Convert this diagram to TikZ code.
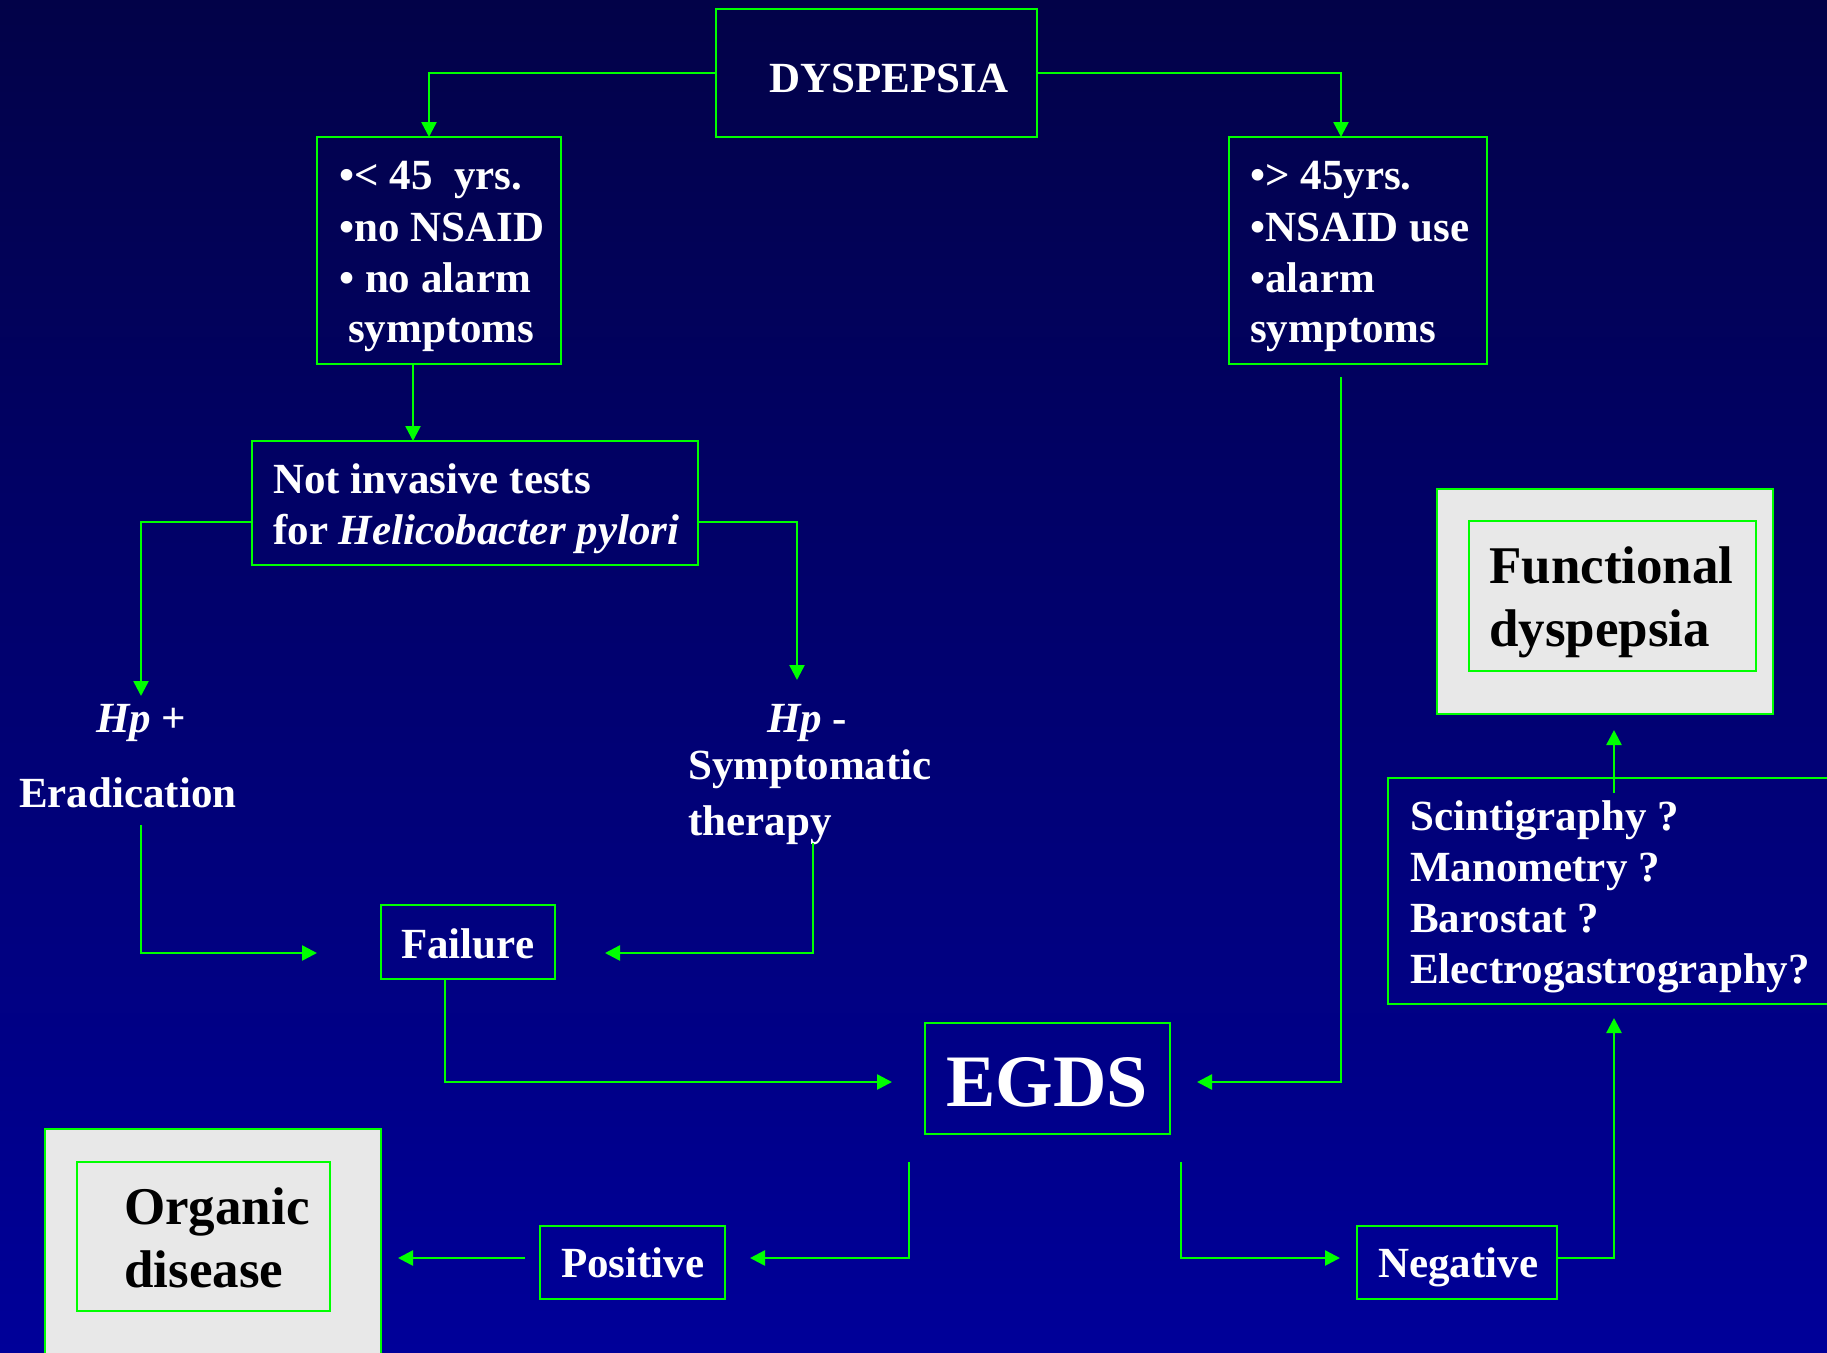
\documentclass[tikz,border=0pt]{standalone}
\usepackage{fontspec}
\setmainfont{Liberation Serif}
\usetikzlibrary{arrows.meta}
\definecolor{bgtop}{RGB}{2,2,72}
\definecolor{bgbot}{RGB}{0,0,153}
\definecolor{lgreen}{RGB}{0,255,0}
\definecolor{pale}{RGB}{232,232,232}
\begin{document}
\begin{tikzpicture}[x=1pt,y=-1pt,
  box/.style={draw=lgreen,line width=2.5pt,rectangle,inner sep=0pt,outer sep=0pt},
  graybox/.style={box,fill=pale},
  conn/.style={draw=lgreen,line width=2.5pt,-{Triangle[width=15pt,length=15pt]}},
  tx/.style={text=white,anchor=base west,inner sep=0pt,font=\fontsize{43}{50}\selectfont\bfseries},
  bigtx/.style={tx,text=black,font=\fontsize{53}{60}\selectfont\bfseries}]
\useasboundingbox (0,0) rectangle (1827,1352);
\shade[top color=bgtop,bottom color=bgbot] (0,0) rectangle (1827,1352);
\clip (0,0) rectangle (1827,1352);

% boxes
\node[box,minimum width=321pt,minimum height=128pt] (dys) at (876.5,73) {};
\node[box,minimum width=244pt,minimum height=227pt] (lbox) at (439,250.5) {};
\node[box,minimum width=258pt,minimum height=227pt] (rbox) at (1358,250.5) {};
\node[box,minimum width=446pt,minimum height=124pt] (nit) at (475,503) {};
\node[box,minimum width=174pt,minimum height=74pt] (fail) at (468,942) {};
\node[box,minimum width=245pt,minimum height=111pt] (egds) at (1047.5,1078.5) {};
\node[box,minimum width=452pt,minimum height=226pt] (tests) at (1614,891) {};
\node[graybox,minimum width=336pt,minimum height=225pt] (funo) at (1605,601.5) {};
\node[box,minimum width=287pt,minimum height=150pt] (funi) at (1612.5,596) {};
\node[graybox,minimum width=336pt,minimum height=240pt] (orgo) at (213,1249) {};
\node[box,minimum width=253pt,minimum height=149pt] (orgi) at (203.5,1236.5) {};
\node[box,minimum width=185pt,minimum height=73pt] (pos) at (632.5,1262.5) {};
\node[box,minimum width=200pt,minimum height=73pt] (neg) at (1457,1262.5) {};

% texts
\node[tx] (tdys) at (769,92) {DYSPEPSIA};
\node[tx] (l1) at (339,189) {•< 45\ \ yrs.};
\node[tx] (l2) at (339,241) {•no NSAID};
\node[tx] (l3) at (339,292) {• no alarm};
\node[tx] (l4) at (348,342) {symptoms};
\node[tx] (r1) at (1250,189) {•> 45yrs.};
\node[tx] (r2) at (1250,241) {•NSAID use};
\node[tx] (r3) at (1250,292) {•alarm};
\node[tx] (r4) at (1250,342) {symptoms};
\node[tx] (n1) at (273,493) {Not invasive tests};
\node[tx] (n2) at (273,544) {for \textit{Helicobacter pylori}};
\node[tx] (hpplus) at (96,732) {\textit{Hp} +};
\node[tx] (erad) at (19,807) {Eradication};
\node[tx] (hpminus) at (767,732) {\textit{Hp} -};
\node[tx] (symp) at (688,779) {Symptomatic};
\node[tx] (ther) at (688,835) {therapy};
\node[tx] (tfail) at (401,958) {Failure};
\node[tx,font=\fontsize{74}{80}\selectfont\bfseries] (tegds) at (946,1106) {EGDS};
\node[bigtx] (f1) at (1489,583) {Functional};
\node[bigtx] (f2) at (1489,646) {dyspepsia};
\node[tx] (s1) at (1410,830) {Scintigraphy ?};
\node[tx] (s2) at (1410,881) {Manometry ?};
\node[tx] (s3) at (1410,932) {Barostat ?};
\node[tx] (s4) at (1410,983) {Electrogastrography?};
\node[bigtx] (o1) at (124,1224) {Organic};
\node[bigtx] (o2) at (124,1287) {disease};
\node[tx] (tpos) at (561,1277) {Positive};
\node[tx] (tneg) at (1378,1277) {Negative};

% free ends
\coordinate (hpp) at (141,696);
\coordinate (hpm) at (797,680);
\coordinate (eradS) at (141,825);
\coordinate (failL) at (317,953);
\coordinate (therS) at (813,843);
\coordinate (failR) at (605,953);
\coordinate (egdsL) at (892,1082);
\coordinate (egdsR) at (1197,1082);
\coordinate (egdsBL) at (909,1162);
\coordinate (posR) at (750,1258);
\coordinate (orgR) at (398,1258);
\coordinate (egdsBR) at (1181,1162);
\coordinate (negL) at (1340,1258);

% connectors
\draw[conn] (dys.west) -| ([xshift=-10pt]lbox.north);
\draw[conn] (dys.east) -| ([xshift=-17pt]rbox.north);
\draw[conn] ([xshift=-26pt]lbox.south) -- ([xshift=-62pt]nit.north);
\draw[conn] ([yshift=-19pt]nit.west) -| (hpp);
\draw[conn] ([yshift=-19pt]nit.east) -| (hpm);
\draw[conn] (eradS) |- (failL);
\draw[conn] (therS) |- (failR);
\draw[conn] ([xshift=-23pt]fail.south) |- (egdsL);
\draw[conn] ([xshift=-17pt,yshift=-13pt]rbox.south) |- (egdsR);
\draw[conn] (egdsBL) |- (posR);
\draw[conn] ([xshift=-15pt,yshift=4.5pt]pos.west) -- (orgR);
\draw[conn] (egdsBR) |- (negL);
\draw[conn] ([yshift=4.5pt]neg.east) -| ([yshift=-14pt]tests.south);
\draw[conn] ([yshift=-15pt]tests.north) -- ([xshift=9pt,yshift=-16pt]funo.south);
\end{tikzpicture}
\end{document}
